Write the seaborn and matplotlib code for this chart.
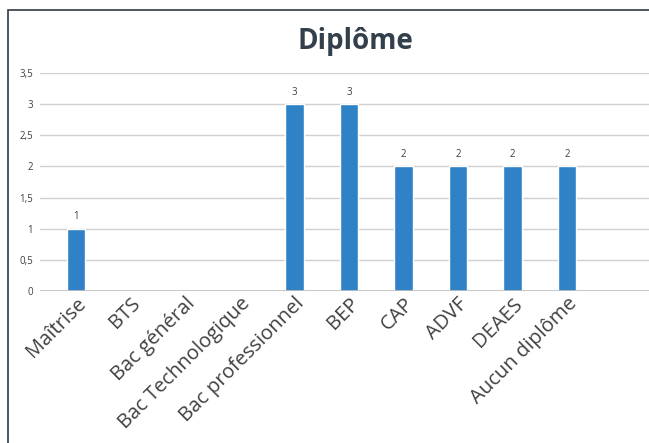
import matplotlib
matplotlib.use("Agg")
import matplotlib.pyplot as plt
import seaborn as sns
import pandas as pd
from matplotlib.patches import Rectangle

categories = ["Maîtrise", "BTS", "Bac général", "Bac Technologique", "Bac professionnel",
              "BEP", "CAP", "ADVF", "DEAES", "Aucun diplôme"]
values = [1, 0, 0, 0, 3, 3, 2, 2, 2, 2]
yticks = [0, 0.5, 1, 1.5, 2, 2.5, 3, 3.5]
ytick_labels = ["0", "0,5", "1", "1,5", "2", "2,5", "3", "3,5"]

BAR_COLOR = "#2E82C5"
TEXT_COLOR = "#404040"

sns.set_style("white")
plt.rcParams["font.family"] = ["Open Sans", "DejaVu Sans"]

df = pd.DataFrame({"diplome": categories, "n": values})

fig = plt.figure(figsize=(6.49, 4.43), dpi=100)
ax = fig.add_axes([40 / 649, 1 - 291 / 443, 1 - 40 / 649, (291 - 73) / 443])

sns.barplot(data=df, x="diplome", y="n", color=BAR_COLOR, width=0.34,
            saturation=1, ax=ax)

ax.set_ylim(0, 3.5)
ax.set_xlim(-0.66, 10.5)
ax.set_yticks(yticks)
ax.set_yticklabels(ytick_labels, fontsize=7, color=TEXT_COLOR)
ax.grid(axis="y", color="#D0D0D0", linewidth=1)
ax.set_axisbelow(True)
for s in ax.spines.values():
    s.set_visible(False)
ax.axhline(0, color="#BFBFBF", linewidth=1.2)
ax.tick_params(axis="y", length=0, pad=5)
ax.tick_params(axis="x", length=0, pad=2)
ax.set_xlabel("")
ax.set_ylabel("")
ax.set_xticks(range(len(categories)))
ax.set_xticklabels(categories, rotation=45, ha="right", rotation_mode="anchor",
                   fontsize=14.5, color=TEXT_COLOR)

for i, v in enumerate(values):
    if v > 0:
        ax.text(i, v + 0.1, str(v), ha="center", va="bottom", fontsize=7, color=TEXT_COLOR)

fig.text(355 / 649, 1 - 42 / 443, "Diplôme", ha="center", va="center",
         fontsize=20, fontweight="bold", color="#333F4B")

# outer frame of the chart (cut at right and bottom)
fig.patches.append(Rectangle((8 / 649, -0.1), 1.2, 1.1 - 10 / 443,
                             transform=fig.transFigure, fill=False,
                             edgecolor="#2F3B47", linewidth=1.2))

fig.savefig("out.png", dpi=100)
